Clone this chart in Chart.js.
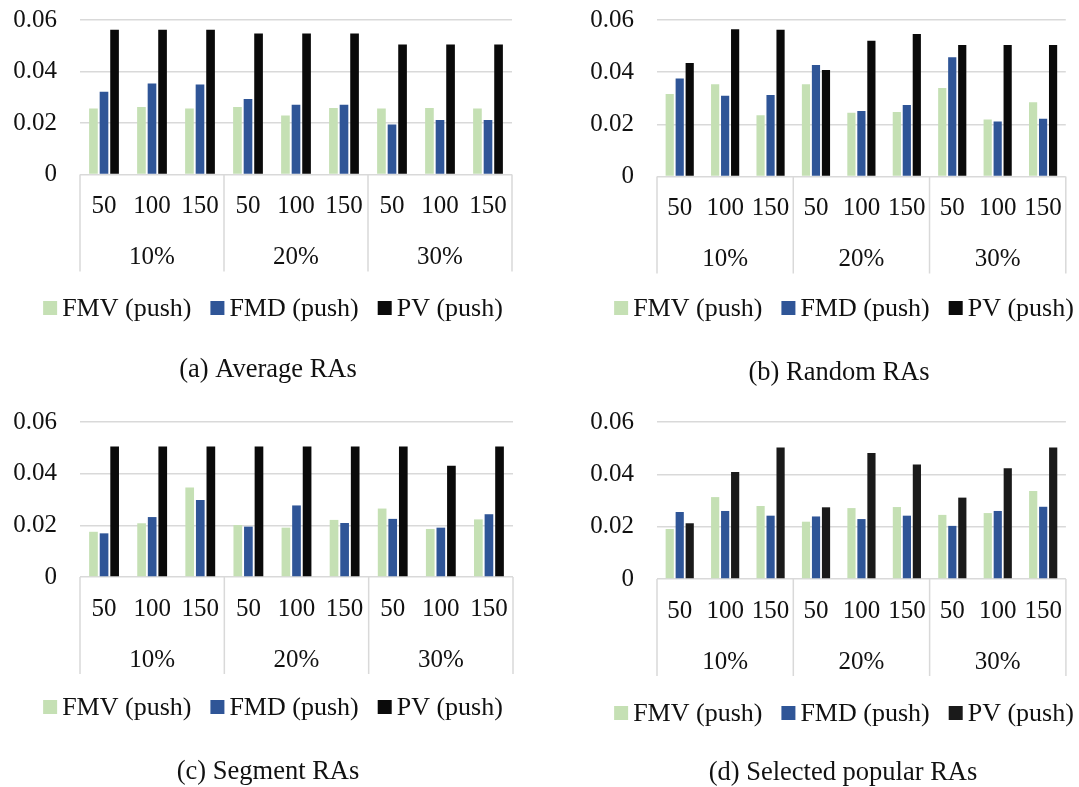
<!DOCTYPE html>
<html>
<head>
<meta charset="utf-8">
<script src="https://cdn.jsdelivr.net/npm/chart.js@4/dist/chart.umd.min.js"></script>
<style>
  html, body { margin: 0; padding: 0; background: #fff; overflow: hidden; }
  #wrap { position: relative; width: 1079px; height: 787px; }
  canvas { position: absolute; }
</style>
</head>
<body>
<div id="wrap">
  <canvas id="chartA" width="540" height="400" style="left:0;top:0"></canvas>
  <canvas id="chartB" width="539" height="400" style="left:540px;top:0"></canvas>
  <canvas id="chartC" width="540" height="385" style="left:0;top:402px"></canvas>
  <canvas id="chartD" width="539" height="385" style="left:540px;top:402px"></canvas>
</div>
<script>
// categories
const raCounts = ['50', '100', '150'];
const ratios = ['10%', '20%', '30%'];
const seriesNames = ['FMV (push)', 'FMD (push)', 'PV (push)'];
const yTicks = [0, 0.02, 0.04, 0.06];

// (a) Average RAs
const avgFMV = [0.0256, 0.0262, 0.0256, 0.0262, 0.0229, 0.0258, 0.0256, 0.0258, 0.0256];
const avgFMD = [0.0321, 0.0353, 0.0350, 0.0293, 0.0271, 0.0271, 0.0194, 0.0212, 0.0212];
const avgPV  = [0.0562, 0.0562, 0.0562, 0.0548, 0.0548, 0.0548, 0.0505, 0.0505, 0.0505];

// (b) Random RAs
const rndFMV = [0.0316, 0.0354, 0.0235, 0.0354, 0.0244, 0.0247, 0.0339, 0.0219, 0.0285];
const rndFMD = [0.0376, 0.0310, 0.0312, 0.0427, 0.0251, 0.0274, 0.0457, 0.0211, 0.0221];
const rndPV  = [0.0435, 0.0565, 0.0563, 0.0408, 0.0520, 0.0546, 0.0504, 0.0504, 0.0504];

// (c) Segment RAs
const segFMV = [0.0175, 0.0208, 0.0346, 0.0201, 0.0191, 0.0221, 0.0265, 0.0186, 0.0223];
const segFMD = [0.0169, 0.0232, 0.0298, 0.0195, 0.0277, 0.0209, 0.0225, 0.0191, 0.0243];
const segPV  = [0.0505, 0.0505, 0.0505, 0.0505, 0.0505, 0.0505, 0.0505, 0.0431, 0.0505];

// (d) Selected popular RAs
const popFMV = [0.0191, 0.0313, 0.0279, 0.0219, 0.0271, 0.0275, 0.0245, 0.0252, 0.0336];
const popFMD = [0.0256, 0.0260, 0.0242, 0.0239, 0.0229, 0.0242, 0.0203, 0.0260, 0.0276];
const popPV  = [0.0213, 0.0409, 0.0503, 0.0274, 0.0482, 0.0438, 0.0311, 0.0423, 0.0503];

const labels = [];
ratios.forEach(() => raCounts.forEach(n => labels.push(n)));

const FONT = '"Liberation Serif", "Times New Roman", serif';
Chart.defaults.font.family = FONT;
Chart.defaults.color = '#111';

const GRID = '#d9d9d9';

// second row of the category axis (10% / 20% / 30%), separators, legend row and caption
const groupAxis = {
  id: 'groupAxis',
  afterDraw(chart, args, opts) {
    const x = chart.scales.x, y = chart.scales.y, ctx = chart.ctx;
    const top = y.getPixelForValue(0);
    const per = raCounts.length, n = chart.data.labels.length;
    ctx.save();
    ctx.strokeStyle = GRID;
    ctx.lineWidth = 1.5;
    for (let i = 0; i <= n; i += per) {
      let px;
      if (i === 0) px = x.left;
      else if (i === n) px = x.right;
      else px = (x.getPixelForValue(i - 1) + x.getPixelForValue(i)) / 2;
      ctx.beginPath();
      ctx.moveTo(px, top);
      ctx.lineTo(px, top + 97);
      ctx.stroke();
    }
    ctx.fillStyle = '#111';
    ctx.font = '25px ' + FONT;
    ctx.textAlign = 'center';
    ctx.textBaseline = 'middle';
    ratios.forEach((r, g) => {
      const cx = (x.getPixelForValue(g * per) + x.getPixelForValue(g * per + per - 1)) / 2;
      ctx.fillText(r, cx, top + 83);
    });

    // legend
    ctx.font = '26px ' + FONT;
    const sets = chart.data.datasets;
    const widths = sets.map(d => 14 + 5 + ctx.measureText(d.label).width);
    const total = widths.reduce((a, b) => a + b, 0) + 19 * (sets.length - 1);
    let lx = opts.legendX - total / 2;
    ctx.textAlign = 'left';
    sets.forEach((d, i) => {
      ctx.fillStyle = d.backgroundColor;
      ctx.fillRect(lx, opts.legendY - 7, 14, 14);
      ctx.fillStyle = '#111';
      ctx.fillText(d.label, lx + 19, opts.legendY + 1);
      lx += widths[i] + 19;
    });

    // caption
    ctx.font = '26.5px ' + FONT;
    ctx.textAlign = 'center';
    ctx.fillText(opts.caption, opts.captionX, opts.captionY);
    ctx.restore();
  }
};

function makeChart(id, fmv, fmd, pv, pvColor, caption, lay) {
  return new Chart(document.getElementById(id), {
    type: 'bar',
    data: {
      labels: labels,
      datasets: [
        { label: seriesNames[0], data: fmv, backgroundColor: '#c5e0b4' },
        { label: seriesNames[1], data: fmd, backgroundColor: '#2f5597' },
        { label: seriesNames[2], data: pv, backgroundColor: pvColor }
      ]
    },
    options: {
      responsive: false,
      animation: false,
      categoryPercentage: 0.66,
      barPercentage: 0.82,
      layout: { padding: { left: 0, right: lay.r, top: 20, bottom: lay.b } },
      scales: {
        x: {
          grid: { display: false, drawTicks: false },
          border: { display: false },
          ticks: { font: { size: 25 }, padding: 17, maxRotation: 0, autoSkip: false },
          afterFit(s) { s.height = 100; }
        },
        y: {
          min: 0, max: 0.06,
          afterBuildTicks(s) { s.ticks = yTicks.map(v => ({ value: v })); },
          grid: { color: GRID, lineWidth: 1.5, drawTicks: false },
          border: { display: false },
          ticks: {
            font: { size: 25 }, padding: 23,
            callback: v => (v === 0 ? '0' : v.toFixed(2))
          },
          afterFit(s) {
            s.width = lay.yw;
            s.paddingTop = 0;
            s.paddingBottom = 0;
          }
        }
      },
      plugins: {
        legend: { display: false },
        tooltip: { enabled: false },
        groupAxis: {
          caption: caption,
          legendX: lay.lx, legendY: lay.ly,
          captionX: lay.cx, captionY: lay.cy
        }
      }
    },
    plugins: [groupAxis]
  });
}

makeChart('chartA', avgFMV, avgFMD, avgPV, '#0a0a0a', '(a) Average RAs',
  { yw: 80, r: 28, b: 125.5, lx: 273, ly: 308, cx: 268, cy: 370 });
makeChart('chartB', rndFMV, rndFMD, rndPV, '#0a0a0a', '(b) Random RAs',
  { yw: 117, r: 3, b: 123.5, lx: 304, ly: 308, cx: 299, cy: 373 });
makeChart('chartC', segFMV, segFMD, segPV, '#0a0a0a', '(c) Segment RAs',
  { yw: 80, r: 27, b: 110, lx: 273, ly: 305, cx: 268, cy: 370 });
makeChart('chartD', popFMV, popFMD, popPV, '#1a1a1a', '(d) Selected popular RAs',
  { yw: 117, r: 1, b: 108, lx: 304, ly: 311, cx: 303, cy: 371 });
</script>
</body>
</html>
